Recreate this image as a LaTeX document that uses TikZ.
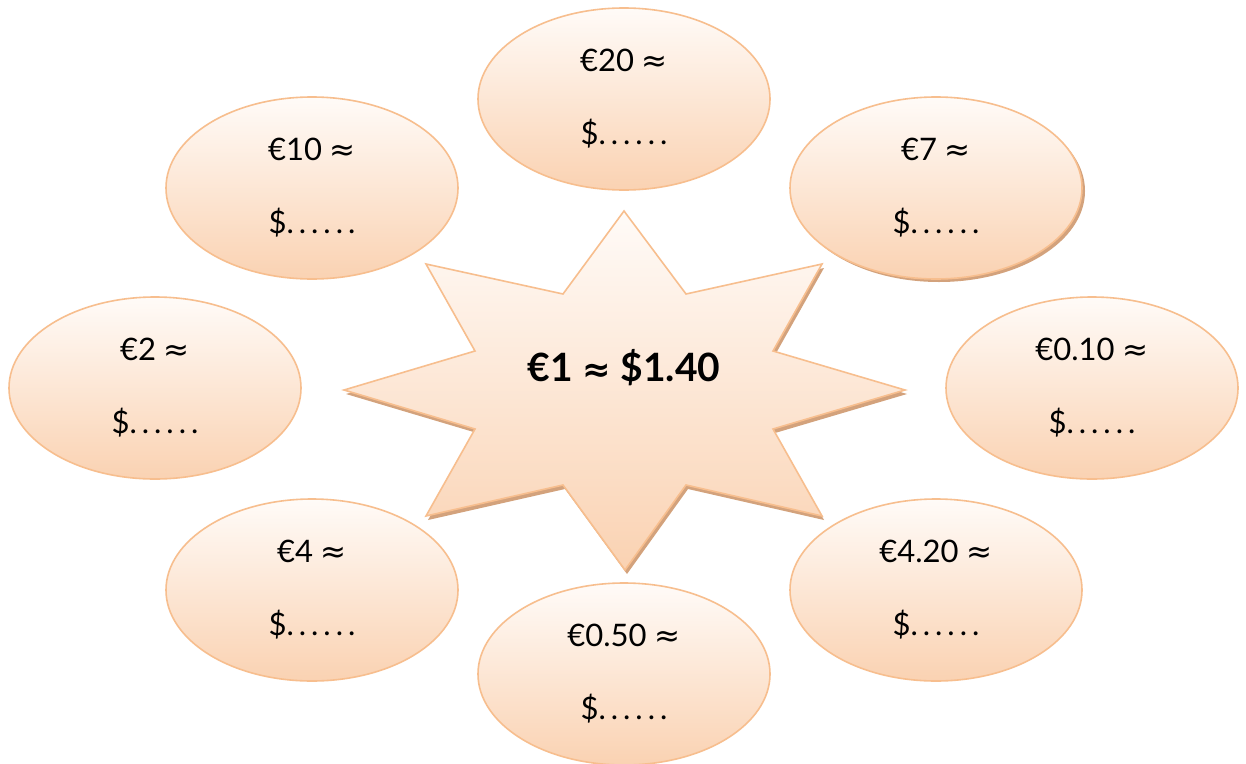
\documentclass[tikz,border=0pt]{standalone}
\usepackage{fontspec}
\setmainfont{Lato}
\newfontfamily\dv{DejaVu Sans}
\usetikzlibrary{shapes.geometric}
\definecolor{peachtop}{HTML}{FFFBF8}
\definecolor{peachbot}{HTML}{FAD2B2}
\definecolor{peachline}{HTML}{F7BE8E}
\definecolor{shadowc}{HTML}{D3A27C}
\newcommand{\approxsym}{{\dv ≈}}
\newcommand{\blanks}{\$.\kern5pt.\kern5pt.\kern5pt.\kern5pt.\kern5pt.}
\tikzset{
  bubble/.style={ellipse, draw=peachline, line width=1.6pt, top color=peachtop, bottom color=peachbot,
    minimum width=292, minimum height=182, inner sep=0pt, align=center,
    font=\fontsize{31}{73}\selectfont},
  bubbleshadow/.style={ellipse, fill=shadowc, draw=none, minimum width=292, minimum height=182, inner sep=0pt},
  startext/.style={font=\fontsize{39}{44}\selectfont\bfseries}
}
\begin{document}
\begin{tikzpicture}[x=1pt,y=-1pt]
\useasboundingbox[fill=white] (0,0) rectangle (1246,763);
% star coordinates
\coordinate (s1) at (624,211);
\coordinate (i1) at (686,294);
\coordinate (s2) at (822,264);
\coordinate (i2) at (773,351);
\coordinate (s3) at (905,390);
\coordinate (i3) at (773,429);
\coordinate (s4) at (822,516);
\coordinate (i4) at (686,485);
\coordinate (s5) at (625,570);
\coordinate (i5) at (563,485);
\coordinate (s6) at (426,516);
\coordinate (i6) at (475,429);
\coordinate (s7) at (344,390);
\coordinate (i7) at (475,351);
\coordinate (s8) at (426,264);
\coordinate (i8) at (563,294);
% star shadow
\begin{scope}[transform canvas={shift={(2,4)}}]
\fill[shadowc] (s1)--(i1)--(s2)--(i2)--(s3)--(i3)--(s4)--(i4)--(s5)--(i5)--(s6)--(i6)--(s7)--(i7)--(s8)--(i8)--cycle;
\end{scope}
% star
\shade[top color=peachtop, bottom color=peachbot] (s1)--(i1)--(s2)--(i2)--(s3)--(i3)--(s4)--(i4)--(s5)--(i5)--(s6)--(i6)--(s7)--(i7)--(s8)--(i8)--cycle;
\draw[peachline, line width=1.6pt, line join=miter] (s1)--(i1)--(s2)--(i2)--(s3)--(i3)--(s4)--(i4)--(s5)--(i5)--(s6)--(i6)--(s7)--(i7)--(s8)--(i8)--cycle;
\node[startext] (star) at (624,368) {€1 {\dv\bfseries\fontsize{34}{36}\selectfont ≈} \$1.40};
% bubbles
\node[bubble] (e20) at (624,99) {€20 \approxsym\\\blanks};
\node[bubble] (e10) at (312,188) {€10 \approxsym\\\blanks};
\node[bubbleshadow] (e7s) at (939,191) {};
\node[bubble] (e7) at (936,188) {€7 \approxsym\\\blanks};
\node[bubble] (e2) at (155,388) {€2 \approxsym\\\blanks};
\node[bubble] (e010) at (1092,388) {€0.10 \approxsym\\\blanks};
\node[bubble] (e4) at (312,590) {€4 \approxsym\\\blanks};
\node[bubble] (e420) at (936,590) {€4.20 \approxsym\\\blanks};
\node[bubble] (e050) at (624,674) {€0.50 \approxsym\\\blanks};
\end{tikzpicture}
\end{document}
